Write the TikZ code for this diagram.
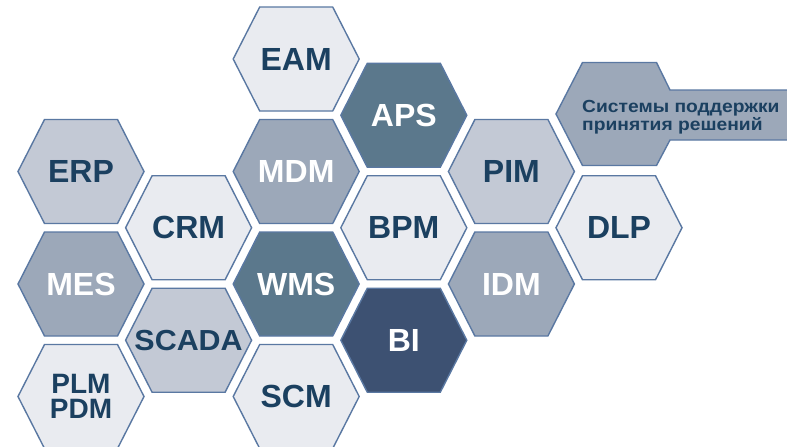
\documentclass[tikz,border=0pt]{standalone}
\usepackage{fontspec}
\setmainfont{Liberation Sans}
\newfontfamily\widefont[FakeStretch=1.1]{Liberation Sans}
\newfontfamily\semiwide[FakeStretch=1.05]{Liberation Sans}
\definecolor{bordc}{HTML}{5A78A2}
\definecolor{clight}{HTML}{E9EBF0}
\definecolor{clmed}{HTML}{C3C9D5}
\definecolor{cmed}{HTML}{9CA8B9}
\definecolor{cteal}{HTML}{5B788C}
\definecolor{cdark}{HTML}{3D5172}
\definecolor{tdark}{HTML}{1B4060}
\tikzset{
  hexborder/.style={draw=bordc, line width=1.4pt, line join=miter},
  lightfill/.style={fill=clight},
  lmedfill/.style={fill=clmed},
  medfill/.style={fill=cmed},
  tealfill/.style={fill=cteal},
  darkfill/.style={fill=cdark},
  lbl/.style={font=\fontsize{32}{32}\selectfont\bfseries, inner sep=0pt},
  dk/.style={text=tdark},
  wt/.style={text=white},
}
\newcommand\hexcell[6]{%
  \begin{scope}[shift={(#2,#3)}]
    \draw[hexborder,#4] (-63,0) -- (-36.5,52) -- (36.5,52) -- (63,0) -- (36.5,-52) -- (-36.5,-52) -- cycle;
    \node[lbl,#5] (#1) at (0,0) {#6};
  \end{scope}}
\begin{document}
\begin{tikzpicture}[x=1pt,y=-1pt]
\clip (0,0) rectangle (787,447);
\fill[white] (0,0) rectangle (787,447);
% column 0
\hexcell{erp}{81}{171.5}{lmedfill}{dk}{ERP}
\hexcell{mes}{81}{284}{medfill}{wt}{MES}
\hexcell{plm}{81}{396.5}{lightfill}{dk,font=\fontsize{28}{25}\selectfont\bfseries,align=center}{PLM\\PDM}
% column 1
\hexcell{crm}{188.6}{227.75}{lightfill}{dk}{CRM}
\hexcell{scada}{188.6}{340.25}{lmedfill}{dk,font=\semiwide\fontsize{29}{29}\selectfont\bfseries}{SCADA}
% column 2
\hexcell{eam}{296.2}{59}{lightfill}{dk}{EAM}
\hexcell{mdm}{296.2}{171.5}{medfill}{wt}{MDM}
\hexcell{wms}{296.2}{284}{tealfill}{wt}{WMS}
\hexcell{scm}{296.2}{396.5}{lightfill}{dk}{SCM}
% column 3
\hexcell{aps}{403.8}{115.25}{tealfill}{wt}{APS}
\hexcell{bpm}{403.8}{227.75}{lightfill}{dk}{BPM}
\hexcell{bi}{403.8}{340.25}{darkfill}{wt}{BI}
% column 4
\hexcell{pim}{511.4}{171.5}{lmedfill}{dk}{PIM}
\hexcell{idm}{511.4}{284}{medfill}{wt}{IDM}
% column 5
\hexcell{dlp}{619}{227.75}{lightfill}{dk}{DLP}
\draw[hexborder,medfill] (556,114) -- (582.5,62.5) -- (656.5,62.5) -- (670,90) -- (800,90)
  -- (800,140) -- (670,140) -- (656.5,165.5) -- (582.5,165.5) -- cycle;
\node[anchor=west, inner sep=0pt, align=left, text=tdark,
  font=\widefont\fontsize{17.5}{13.5}\selectfont\bfseries] (dss) at (582,117)
  {Системы поддержки\\принятия решений};
\end{tikzpicture}
\end{document}
